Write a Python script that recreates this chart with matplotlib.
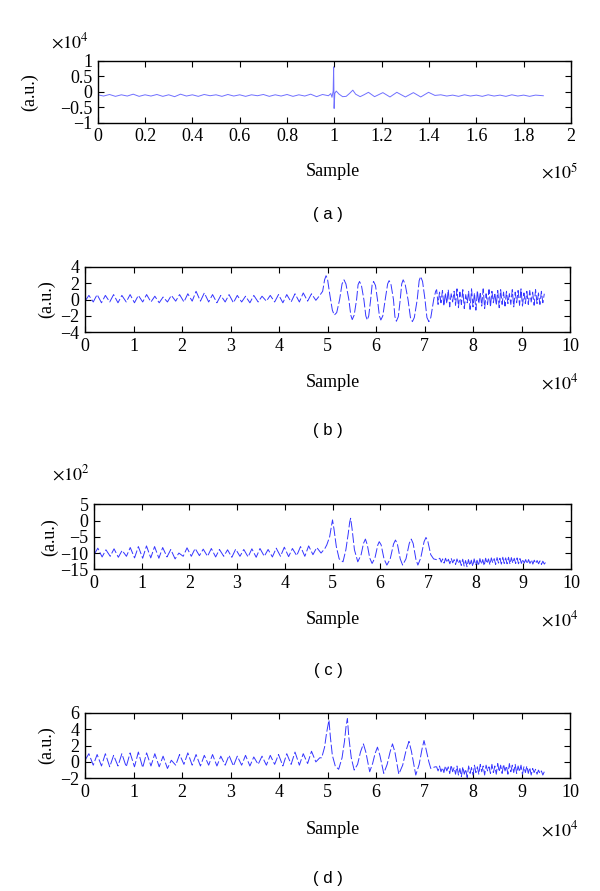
import matplotlib
matplotlib.use("Agg")
import matplotlib.pyplot as plt

plt.rcParams['font.family'] = ['Liberation Serif', 'DejaVu Serif']
plt.rcParams['mathtext.fontset'] = 'stix'

W, H = 600, 891

# ---------------- Panel (a): x in 1e5 samples, y in 1e4 a.u. ----------------
a_pre_x = [0.000, 0.025, 0.050, 0.075, 0.100, 0.125, 0.150, 0.175, 0.200, 0.225,
           0.250, 0.275, 0.300, 0.325, 0.350, 0.375, 0.400, 0.425, 0.450, 0.475,
           0.500, 0.525, 0.550, 0.575, 0.600, 0.625, 0.650, 0.675, 0.700, 0.725,
           0.750, 0.775, 0.800, 0.825, 0.850, 0.875, 0.900, 0.925, 0.950, 0.975]
a_pre_y = [-0.10, -0.14, -0.09, -0.15, -0.10, -0.14, -0.08, -0.15, -0.10, -0.14,
           -0.09, -0.15, -0.10, -0.16, -0.08, -0.14, -0.10, -0.15, -0.09, -0.13,
           -0.10, -0.15, -0.09, -0.14, -0.10, -0.15, -0.10, -0.13, -0.09, -0.15,
           -0.10, -0.14, -0.09, -0.15, -0.10, -0.14, -0.08, -0.16, -0.09, -0.13]
a_evt_x = [0.985, 0.990, 0.995, 0.997, 0.999, 1.002, 1.008, 1.020, 1.035, 1.050,
           1.065, 1.078, 1.090, 1.109, 1.125, 1.144, 1.170, 1.205, 1.235, 1.264,
           1.300, 1.334, 1.365, 1.398, 1.425]
a_evt_y = [-0.06, -0.18, 0.02, 0.80, -0.54, -0.05, 0.02, -0.08, -0.16, -0.15,
           -0.05, 0.05, -0.08, -0.16, -0.10, -0.02, -0.16, -0.03, -0.17, -0.02,
           -0.17, -0.03, -0.17, -0.02, -0.12]
a_post_x = [1.450, 1.475, 1.500, 1.525, 1.550, 1.575, 1.600, 1.625, 1.650, 1.675,
            1.700, 1.725, 1.750, 1.775, 1.800, 1.825, 1.850, 1.883]
a_post_y = [-0.10, -0.14, -0.11, -0.15, -0.10, -0.14, -0.11, -0.15, -0.10, -0.14,
            -0.11, -0.15, -0.10, -0.14, -0.11, -0.15, -0.11, -0.13]

# ---------------- Shared sample positions for panels (b)-(d), x in 1e4 ----------------
small_x = [0.00, 0.08, 0.17, 0.25, 0.34, 0.42, 0.51, 0.59, 0.68, 0.76,
           0.85, 0.93, 1.02, 1.10, 1.19, 1.27, 1.36, 1.44, 1.53, 1.61,
           1.70, 1.78, 1.87, 1.95, 2.04, 2.12, 2.21, 2.29, 2.38, 2.46,
           2.55, 2.63, 2.72, 2.80, 2.89, 2.97, 3.06, 3.14, 3.23, 3.31,
           3.40, 3.48, 3.57, 3.65, 3.74, 3.82, 3.91, 3.99, 4.08, 4.16,
           4.25, 4.33, 4.42, 4.50, 4.59, 4.67, 4.76, 4.84]
dense_x = [7.25, 7.28, 7.31, 7.34, 7.37, 7.40, 7.43, 7.46, 7.49, 7.52,
           7.55, 7.58, 7.61, 7.64, 7.67, 7.70, 7.73, 7.76, 7.79, 7.82,
           7.85, 7.88, 7.91, 7.94, 7.97, 8.00, 8.03, 8.06, 8.09, 8.12,
           8.15, 8.18, 8.21, 8.24, 8.27, 8.30, 8.33, 8.36, 8.39, 8.42,
           8.45, 8.48, 8.51, 8.54, 8.57, 8.60, 8.63, 8.66, 8.69, 8.72,
           8.75, 8.78, 8.81, 8.84, 8.87, 8.90, 8.93, 8.96, 8.99, 9.02,
           9.05, 9.08, 9.11, 9.14, 9.17, 9.20, 9.23, 9.26, 9.29, 9.32,
           9.35, 9.38, 9.41, 9.44, 9.47]

# ---------------- Panel (b) ----------------
b_small_y = [-0.2, 0.5, -0.3, 0.6, -0.4, 0.5, -0.3, 0.6, -0.4, 0.5,
             -0.3, 0.6, -0.4, 0.5, -0.3, 0.6, -0.3, 0.4, -0.4, 0.3,
             -0.3, 0.5, -0.2, 0.6, -0.3, 0.7, -0.2, 1.0, -0.2, 0.8,
             -0.3, 0.6, -0.4, 0.5, -0.3, 0.6, -0.4, 0.5, -0.3, 0.4,
             -0.4, 0.5, -0.3, 0.4, -0.2, 0.5, -0.3, 0.6, -0.4, 0.6,
             -0.3, 0.7, -0.3, 0.8, -0.2, 0.7, -0.1, 0.5]
b_big_x = [4.90, 4.94, 4.97, 5.00, 5.05, 5.10, 5.14, 5.19, 5.25, 5.30,
           5.34, 5.38, 5.44, 5.48, 5.51, 5.55, 5.60, 5.63, 5.66, 5.70,
           5.75, 5.79, 5.82, 5.85, 5.89, 5.92, 5.95, 5.99, 6.03, 6.07,
           6.10, 6.14, 6.19, 6.24, 6.27, 6.31, 6.36, 6.39, 6.42, 6.46,
           6.50, 6.53, 6.56, 6.60, 6.66, 6.71, 6.75, 6.79, 6.85, 6.89,
           6.92, 6.96, 7.01, 7.05, 7.09, 7.13, 7.19, 7.23]
b_big_y = [1.0, 2.4, 2.9, 2.5, 0.5, -1.3, -1.9, -1.6, 0.0, 1.9,
           2.4, 1.9, 0.0, -1.9, -2.45, -1.9, 0.0, 1.8, 2.2, 1.7,
           0.0, -2.0, -2.5, -2.0, 0.0, 1.8, 2.2, 1.7, 0.0, -2.0,
           -2.5, -2.0, 0.0, 1.9, 2.3, 1.8, 0.0, -2.1, -2.65, -2.1,
           0.0, 1.9, 2.4, 1.9, 0.0, -2.2, -2.7, -2.2, 0.0, 2.3,
           2.8, 2.2, 0.0, -2.2, -2.7, -2.2, 0.0, 1.0]
b_dense_y = [1.2, -0.6, 0.9, -0.4, 1.1, -0.8, 0.8, -0.5, 1.2, -0.9,
             0.7, -0.3, 1.0, -0.7, 1.3, -1.0, 0.9, -0.6, 1.2, -1.1,
             0.6, -0.4, 1.0, -1.2, 1.3, -0.9, 0.8, -1.3, 1.1, -0.5,
             0.9, -0.8, 1.3, -1.1, 0.7, -0.6, 1.2, -0.9, 1.0, -0.4,
             0.8, -0.7, 1.1, -1.0, 1.2, -0.6, 0.9, -0.8, 1.0, -0.5,
             0.7, -0.6, 1.2, -0.9, 0.9, -0.4, 1.1, -0.7, 1.3, -0.8,
             0.8, -0.5, 1.0, -0.6, 1.1, -0.3, 0.9, -0.7, 1.2, -0.5,
             0.8, -0.6, 1.0, -0.4, 0.7]

# ---------------- Panel (c), y in 1e2 ----------------
c_small_y = [-10.5, -8.5, -11.2, -9.0, -11.0, -8.7, -11.3, -9.2, -11.0, -8.3,
             -11.5, -8.0, -11.6, -7.8, -11.5, -8.0, -11.6, -8.3, -11.2, -8.9,
             -11.8, -10.0, -11.0, -8.4, -11.0, -8.6, -10.8, -8.8, -11.0, -8.6,
             -11.2, -8.9, -11.0, -9.0, -11.3, -8.8, -11.0, -8.9, -11.2, -8.7,
             -11.3, -8.6, -11.0, -8.9, -11.2, -8.5, -11.0, -8.2, -11.1, -8.6,
             -10.8, -8.0, -11.0, -7.8, -10.5, -8.3, -10.0, -8.6]
c_big_x = [4.88, 4.94, 4.98, 5.00, 5.03, 5.08, 5.14, 5.22, 5.28, 5.33,
           5.36, 5.38, 5.41, 5.46, 5.53, 5.60, 5.65, 5.69, 5.73, 5.78,
           5.83, 5.89, 5.95, 5.98, 6.02, 6.08, 6.14, 6.21, 6.28, 6.32,
           6.36, 6.42, 6.47, 6.54, 6.61, 6.65, 6.69, 6.75, 6.79, 6.85,
           6.92, 6.96, 7.00, 7.06, 7.12, 7.20]
c_big_y = [-7.5, -5.0, -1.5, 0.2, -2.5, -8.0, -11.8, -12.7, -9.0, -4.0,
           -0.5, 0.7, -2.5, -9.0, -12.7, -10.5, -7.0, -5.7, -7.5, -11.5,
           -13.2, -11.5, -7.5, -6.5, -7.5, -11.8, -13.7, -11.8, -7.2, -6.0,
           -7.2, -11.8, -13.7, -11.8, -7.0, -5.7, -7.0, -12.0, -13.7, -11.5,
           -6.5, -5.2, -6.5, -10.5, -11.8, -12.1]
c_dense_y = [-11.6, -12.8, -11.8, -13.1, -11.6, -12.9, -11.9, -13.3, -11.7, -13.0,
             -12.0, -13.5, -11.8, -13.2, -12.2, -13.8, -11.9, -14.0, -12.3, -14.2,
             -12.0, -13.8, -12.2, -14.1, -11.8, -13.7, -12.2, -13.9, -11.7, -13.4,
             -12.0, -13.9, -11.6, -13.2, -11.8, -13.6, -11.5, -13.0, -11.7, -13.5,
             -11.4, -13.1, -11.6, -13.4, -11.3, -13.2, -11.5, -13.3, -11.3, -13.4,
             -11.4, -13.1, -11.6, -13.2, -11.5, -13.3, -11.7, -13.2, -11.9, -13.1,
             -12.0, -13.3, -12.0, -13.2, -12.1, -13.4, -12.2, -13.2, -12.3, -13.3,
             -12.4, -13.5, -12.5, -13.4, -12.8]

# ---------------- Panel (d) ----------------
d_small_y = [0.2, 1.0, -0.4, 0.9, -0.5, 1.0, -0.6, 0.8, -0.5, 1.0,
             -0.6, 1.1, -0.6, 1.2, -0.7, 1.1, -0.5, 1.0, -0.6, 0.7,
             -0.8, 0.2, -0.4, 0.9, -0.3, 1.1, -0.4, 0.9, -0.5, 0.8,
             -0.4, 0.9, -0.5, 0.7, -0.4, 0.8, -0.5, 0.7, -0.4, 0.8,
             -0.5, 0.6, -0.3, 0.7, -0.4, 0.8, -0.3, 0.9, -0.5, 1.0,
             -0.3, 1.2, -0.4, 1.0, -0.2, 1.3, 0.0, 0.5]
d_big_x = [4.88, 4.94, 4.98, 5.03, 5.06, 5.10, 5.16, 5.23, 5.30, 5.35,
           5.38, 5.41, 5.44, 5.49, 5.55, 5.62, 5.68, 5.74, 5.79, 5.87,
           5.93, 5.98, 6.03, 6.08, 6.16, 6.23, 6.29, 6.34, 6.39, 6.47,
           6.55, 6.62, 6.68, 6.73, 6.82, 6.89, 6.95, 6.99, 7.03, 7.09,
           7.13, 7.22]
d_big_y = [0.5, 1.8, 3.5, 5.1, 3.0, 0.8, -0.5, -0.9, 0.5, 2.5,
           4.2, 5.3, 3.0, 0.5, -1.0, -0.3, 1.2, 2.2, 1.2, -1.2,
           -0.2, 1.0, 1.8, 0.8, -1.4, -0.3, 1.2, 2.2, 1.2, -1.5,
           -0.4, 1.4, 2.5, 1.3, -1.6, -0.3, 1.6, 2.6, 1.6, 0.0,
           -0.8, -0.6]
d_dense_y = [-0.6, -1.1, -0.5, -1.2, -0.7, -1.3, -0.5, -1.1, -0.6, -1.4,
             -0.4, -1.2, -0.7, -1.5, -0.5, -1.6, -0.8, -1.8, -0.6, -1.5,
             -0.9, -1.9, -0.5, -1.4, -0.7, -1.6, -0.4, -1.3, -0.6, -1.5,
             -0.3, -1.2, -0.5, -1.6, -0.4, -1.1, -0.6, -1.4, -0.3, -1.3,
             -0.5, -1.5, -0.2, -1.2, -0.4, -1.4, -0.3, -1.1, -0.5, -1.5,
             -0.2, -1.2, -0.4, -1.3, -0.3, -1.4, -0.5, -1.2, -0.4, -1.5,
             -0.6, -1.3, -0.5, -1.4, -0.7, -1.6, -0.8, -1.3, -0.9, -1.5,
             -1.0, -1.4, -1.1, -1.6, -1.2]

# ---------------- Axis settings ----------------
a_xticks = [0, 0.2, 0.4, 0.6, 0.8, 1, 1.2, 1.4, 1.6, 1.8, 2]
a_xticklabels = ['0', '0.2', '0.4', '0.6', '0.8', '1', '1.2', '1.4', '1.6', '1.8', '2']
a_yticks = [-1, -0.5, 0, 0.5, 1]
a_yticklabels = ['\u22121', '\u22120.5', '0', '0.5', '1']
bcd_xticks = [0, 1, 2, 3, 4, 5, 6, 7, 8, 9, 10]
b_yticks = [-4, -2, 0, 2, 4]
c_yticks = [-15, -10, -5, 0, 5]
d_yticks = [-2, 0, 2, 4, 6]

LINE_COLOR = '#3535ff'
DASH = (0, (10, 2.5))


def concat(*parts):
    xs, ys = [], []
    for px, py in parts:
        n = min(len(px), len(py))
        xs += list(px[:n])
        ys += list(py[:n])
    return xs, ys


def minus(v):
    return ('%g' % v).replace('-', '\u2212')


fig = plt.figure(figsize=(W / 100, H / 100), dpi=100)


def make_ax(left, top, right, bottom):
    ax = fig.add_axes([left / W, 1 - bottom / H, (right - left) / W, (bottom - top) / H])
    ax.tick_params(direction='in', top=True, right=True, length=4, width=0.8,
                   labelsize=13, pad=4)
    for s in ax.spines.values():
        s.set_linewidth(1.0)
    return ax


def ptext(x, y, s, **kw):
    fig.text(x / W, 1 - y / H, s, **kw)


# Panel a
axa = make_ax(97.7, 60.7, 571, 122.7)
xa, ya = concat((a_pre_x, a_pre_y), (a_evt_x, a_evt_y), (a_post_x, a_post_y))
axa.plot(xa, ya, color='#7070ff', lw=0.7)
axa.set_xlim(0, 2)
axa.set_ylim(-1, 1)
axa.set_xticks(a_xticks)
axa.set_xticklabels(a_xticklabels)
axa.set_yticks(a_yticks)
axa.set_yticklabels(a_yticklabels)

# Panel b
axb = make_ax(85, 266.7, 570, 332.3)
xb, yb = concat((small_x, b_small_y), (b_big_x, b_big_y), (dense_x, b_dense_y))
axb.plot(xb, yb, color=LINE_COLOR, lw=0.7, linestyle=DASH)
axb.set_ylim(-4, 4)

# Panel c
axc = make_ax(94, 504.3, 571, 569.3)
xc, yc = concat((small_x, c_small_y), (c_big_x, c_big_y), (dense_x, c_dense_y))
axc.plot(xc, yc, color=LINE_COLOR, lw=0.7, linestyle=DASH)
axc.set_ylim(-15, 5)

# Panel d
axd = make_ax(85, 712.7, 570, 778.3)
xd, yd = concat((small_x, d_small_y), (d_big_x, d_big_y), (dense_x, d_dense_y))
axd.plot(xd, yd, color=LINE_COLOR, lw=0.7, linestyle=DASH)
axd.set_ylim(-2, 6)

for ax, yt in ((axb, b_yticks), (axc, c_yticks), (axd, d_yticks)):
    ax.set_xlim(0, 10)
    ax.set_xticks(bcd_xticks)
    ax.set_xticklabels([str(t) for t in bcd_xticks])
    ax.set_yticks(yt)
    ax.set_yticklabels([minus(t) for t in yt])

# Y labels
ptext(30, 91.7, '(a.u.)', rotation=90, ha='center', va='center', fontsize=13)
ptext(47, 299.5, '(a.u.)', rotation=90, ha='center', va='center', fontsize=13)
ptext(50, 536.8, '(a.u.)', rotation=90, ha='center', va='center', fontsize=13)
ptext(47, 745.5, '(a.u.)', rotation=90, ha='center', va='center', fontsize=13)

# X labels and exponent labels
for ycen in (172, 383, 620, 830):
    ptext(333, ycen, 'Sample', ha='center', va='center', fontsize=13)

ptext(560, 172, r'$\times 10^5$', ha='center', va='center', fontsize=13)
for ycen in (383, 620, 830):
    ptext(560, ycen, r'$\times 10^4$', ha='center', va='center', fontsize=13)

ptext(70, 42, r'$\times 10^4$', ha='center', va='center', fontsize=13)
ptext(71, 474, r'$\times 10^2$', ha='center', va='center', fontsize=13)

# Sub-figure captions
for ycen, lab in ((215, '( a )'), (430, '( b )'), (670, '( c )'), (878, '( d )')):
    ptext(328, ycen, lab, ha='center', va='center', fontsize=12,
          family=['Liberation Sans', 'DejaVu Sans'])

fig.savefig('out.png', dpi=100)
